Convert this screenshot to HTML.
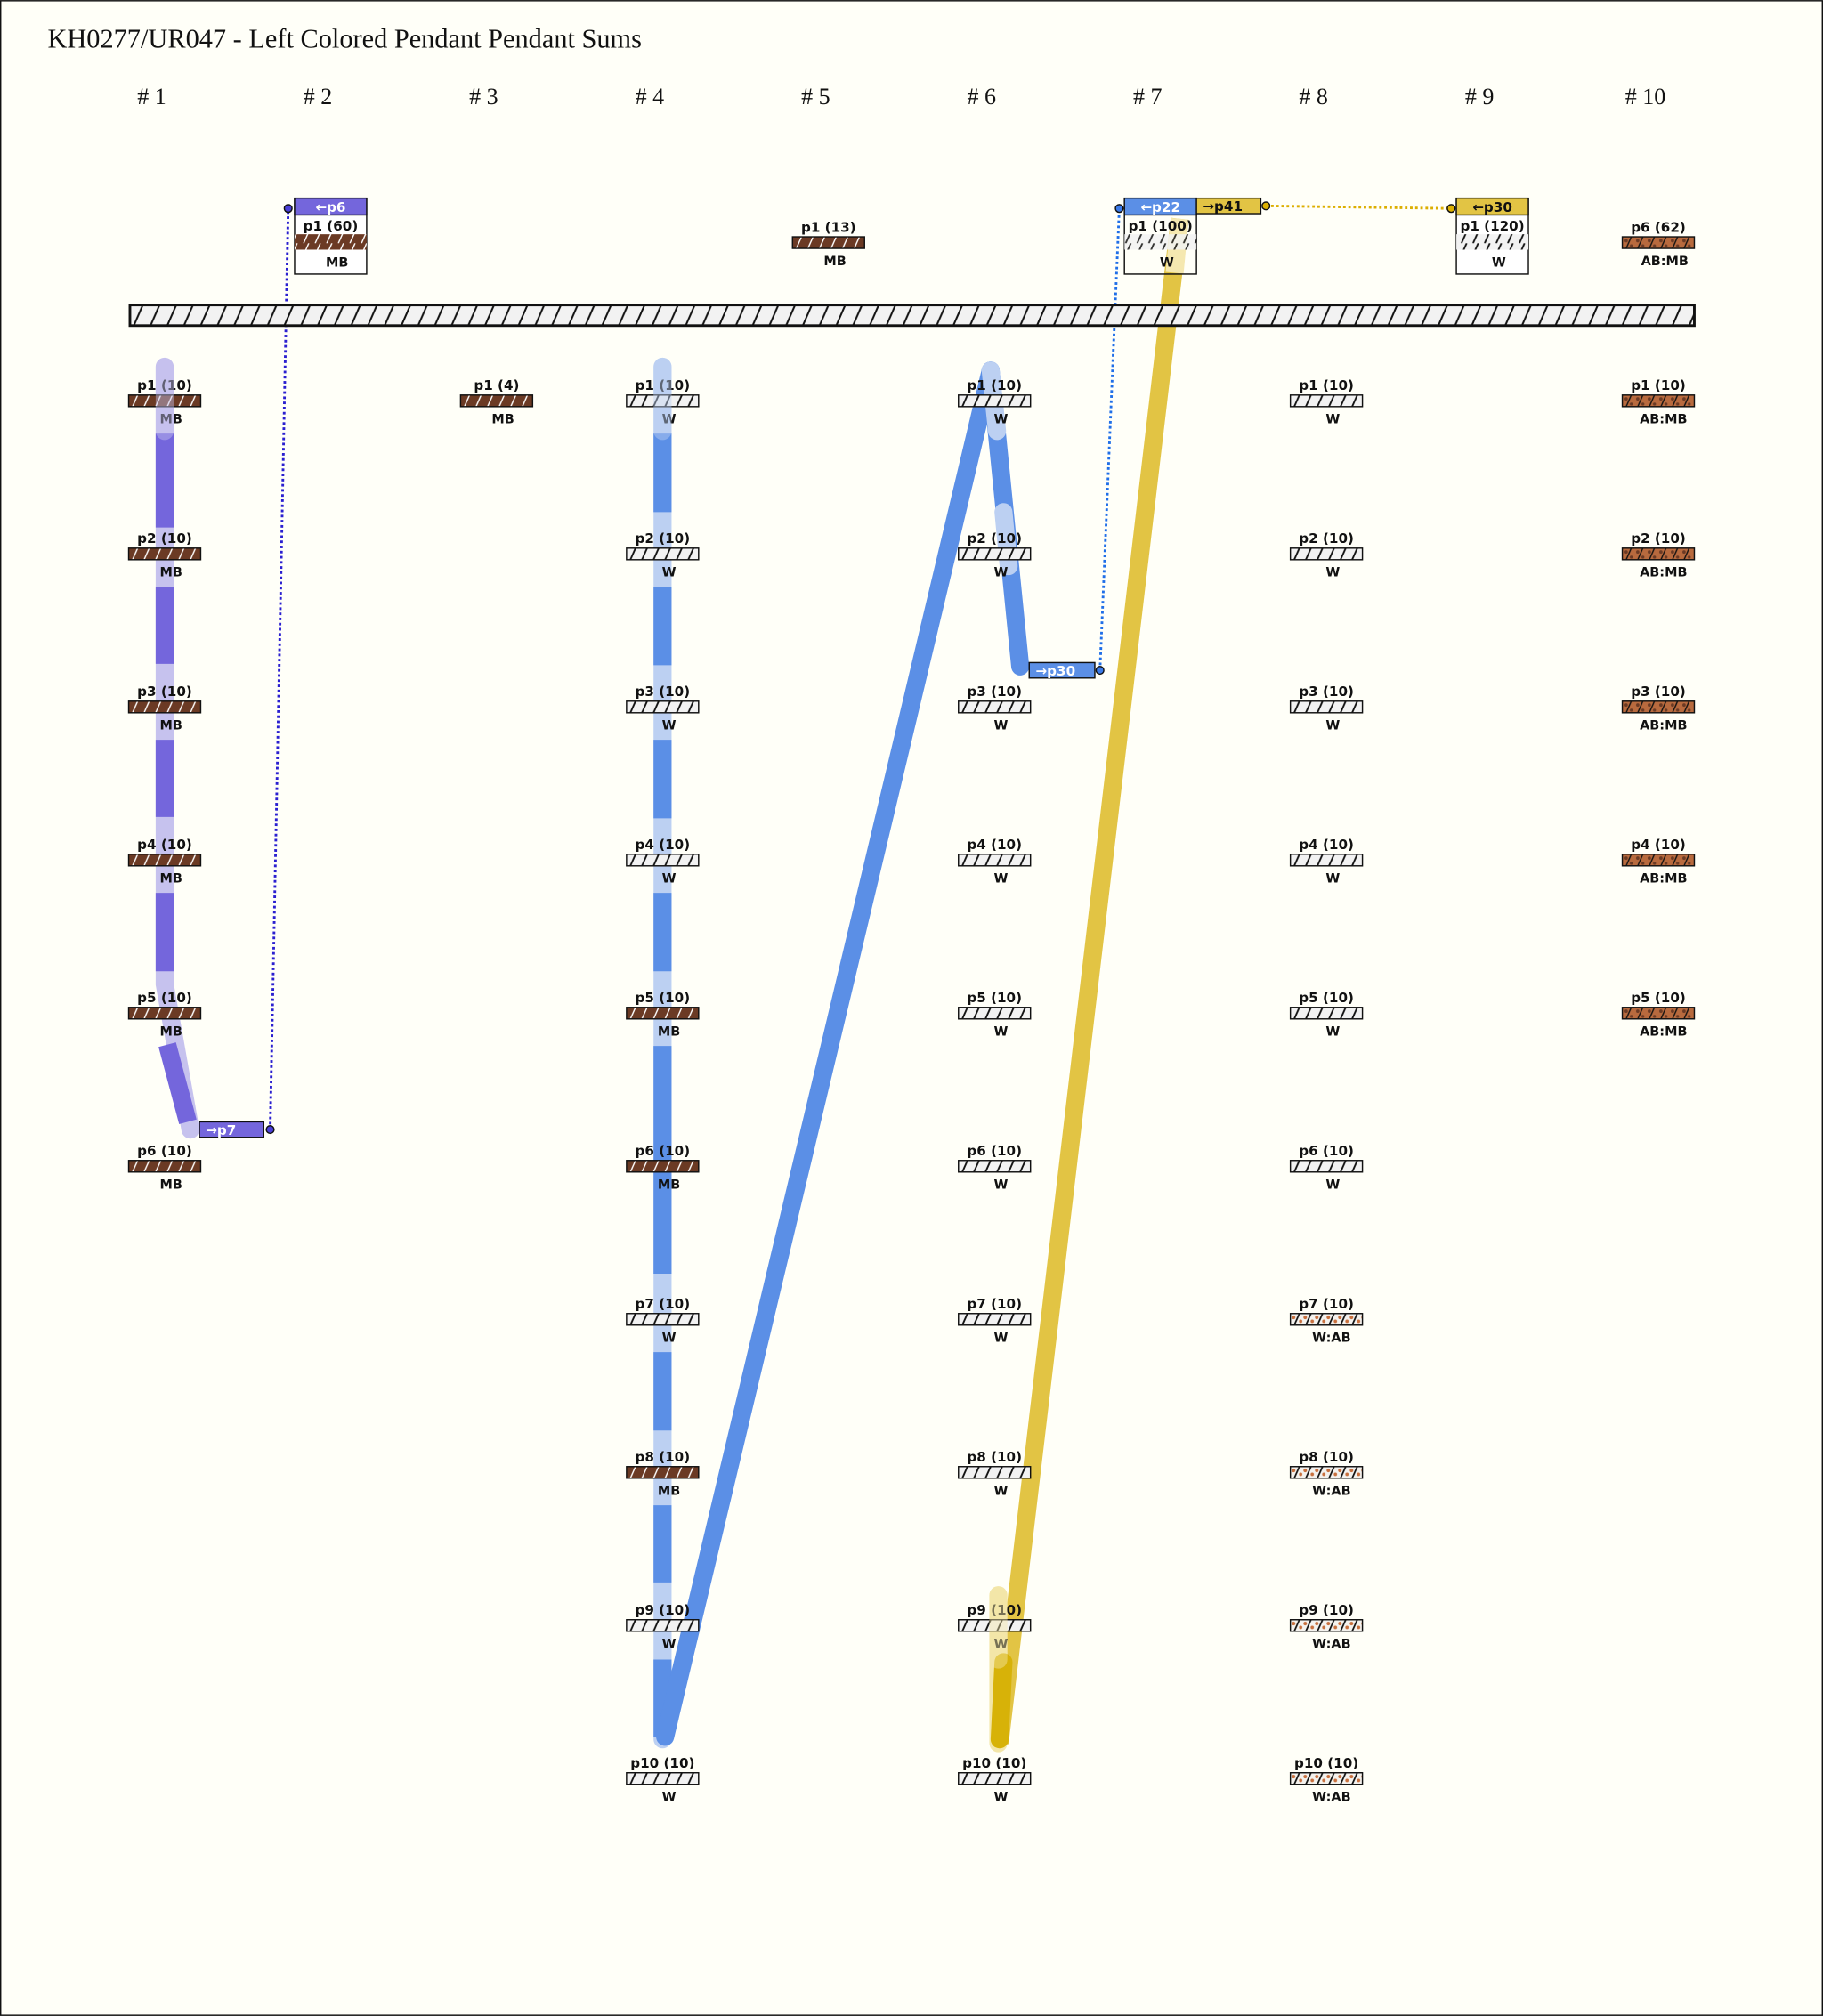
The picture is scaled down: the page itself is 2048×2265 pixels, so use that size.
<!DOCTYPE html>
<html><head><meta charset="utf-8"><style>
html,body{margin:0;padding:0;background:#fffff8}
svg{display:block}
.l{font-family:"DejaVu Sans","Liberation Sans",sans-serif;font-weight:bold;font-size:10.5px;text-anchor:middle;fill:#111}
.s{font-family:"DejaVu Sans","Liberation Sans",sans-serif;font-weight:bold;font-size:10px;text-anchor:middle;fill:#111}
.h{font-family:"Liberation Serif",serif;font-size:18px;text-anchor:middle;fill:#111}
.w{font-family:"DejaVu Sans","Liberation Sans",sans-serif;font-weight:bold;font-size:10.5px;fill:#fff}
.k{font-family:"DejaVu Sans","Liberation Sans",sans-serif;font-weight:bold;font-size:10.5px;fill:#111}
</style></head><body>
<svg width="2048" height="2265" viewBox="0 0 1417 1567" xmlns="http://www.w3.org/2000/svg">
<defs>
<pattern id="W" patternUnits="userSpaceOnUse" width="9" height="9"><rect width="9" height="9" fill="#f2f2f2"/><line x1="2" y1="9" x2="6" y2="0" stroke="#111" stroke-width="1.3"/></pattern>
<pattern id="BAR" patternUnits="userSpaceOnUse" x="101" y="237" width="13" height="16"><rect width="13" height="16" fill="#f2f2f2"/><line x1="3" y1="16" x2="10" y2="0" stroke="#111" stroke-width="1.4"/></pattern>
<pattern id="MB" patternUnits="userSpaceOnUse" width="9" height="9"><rect width="9" height="9" fill="#6b3a24"/><line x1="2" y1="9" x2="6" y2="0" stroke="#fff" stroke-width="1"/></pattern>
<pattern id="AM" patternUnits="userSpaceOnUse" width="9" height="9"><rect width="9" height="9" fill="#b86a3e"/><circle cx="2" cy="3" r="1.3" fill="#6b3a24"/><circle cx="6" cy="7" r="1.2" fill="#6b3a24"/><line x1="2" y1="9" x2="6" y2="0" stroke="#111" stroke-width="1"/></pattern>
<pattern id="WA" patternUnits="userSpaceOnUse" width="9" height="9"><rect width="9" height="9" fill="#f4f2ee"/><circle cx="1.5" cy="3" r="1.4" fill="#c8703e"/><circle cx="7" cy="6" r="1.3" fill="#c8703e"/><line x1="2" y1="9" x2="6" y2="0" stroke="#111" stroke-width="1.2"/></pattern>
</defs>
<rect x="0.5" y="0.5" width="1416" height="1566" fill="#fffff8" stroke="#111" stroke-width="1"/>
<text x="37" y="37" font-family="Liberation Serif, serif" font-size="21" fill="#111">KH0277/UR047 - Left Colored Pendant Pendant Sums</text>
<text class="h" x="118" y="81"># 1</text><text class="h" x="247" y="81"># 2</text><text class="h" x="376" y="81"># 3</text><text class="h" x="505" y="81"># 4</text><text class="h" x="634" y="81"># 5</text><text class="h" x="763" y="81"># 6</text><text class="h" x="892" y="81"># 7</text><text class="h" x="1021" y="81"># 8</text><text class="h" x="1150" y="81"># 9</text><text class="h" x="1279" y="81"># 10</text>

<g fill="none" stroke-linecap="round">
<polyline points="128,285 128,765 148,878" stroke="#c6c2ee" stroke-width="14"/>
<g stroke="#7466dc" stroke-width="14" stroke-linecap="butt">
<line x1="128" y1="337" x2="128" y2="410"/><line x1="128" y1="456" x2="128" y2="516"/><line x1="128" y1="575" x2="128" y2="635"/><line x1="128" y1="694" x2="128" y2="755"/><line x1="130" y1="812" x2="146" y2="872"/>
</g>
<line x1="515" y1="285" x2="515" y2="1352" stroke="#bcd0f2" stroke-width="14"/>
<g stroke="#5b8fe6" stroke-width="14" stroke-linecap="butt">
<line x1="515" y1="337" x2="515" y2="398"/><line x1="515" y1="456" x2="515" y2="517"/><line x1="515" y1="575" x2="515" y2="636"/><line x1="515" y1="694" x2="515" y2="755"/><line x1="515" y1="813" x2="515" y2="990"/><line x1="515" y1="1051" x2="515" y2="1112"/><line x1="515" y1="1170" x2="515" y2="1230"/><line x1="515" y1="1290" x2="515" y2="1350"/>
</g>
<line x1="517" y1="1350" x2="770" y2="288" stroke="#5b8fe6" stroke-width="14"/>
<line x1="770" y1="288" x2="793" y2="518" stroke="#5b8fe6" stroke-width="14"/>
<line x1="770" y1="288" x2="775" y2="335" stroke="#bcd0f2" stroke-width="14"/>
<line x1="780" y1="398" x2="784" y2="440" stroke="#bcd0f2" stroke-width="14"/>
<line x1="917" y1="170" x2="777" y2="1355" stroke="#e2c444" stroke-width="14" stroke-linecap="butt"/>
<line x1="917" y1="170" x2="913" y2="212" stroke="#f5e8b0" stroke-width="14" stroke-linecap="butt"/>
<line x1="776" y1="1240" x2="776" y2="1355" stroke="#f3e6a8" stroke-width="14"/>
<line x1="780" y1="1292" x2="777" y2="1352" stroke="#d7b208" stroke-width="14"/>
</g>
<polyline points="210,878 224,162" fill="none" stroke="#2a1fd0" stroke-width="2" stroke-dasharray="2,2"/>
<circle cx="210" cy="878" r="3" fill="#4a3fd8" stroke="#111"/><circle cx="224" cy="162" r="3" fill="#4a3fd8" stroke="#111"/>
<polyline points="855,521 870,162" fill="none" stroke="#1f6ee8" stroke-width="2" stroke-dasharray="2,2"/>
<circle cx="855" cy="521" r="3" fill="#3b7ae8" stroke="#111"/><circle cx="870" cy="162" r="3" fill="#3b7ae8" stroke="#111"/>
<polyline points="984,160 1128,162" fill="none" stroke="#dcae00" stroke-width="2" stroke-dasharray="2,2"/>
<circle cx="984" cy="160" r="3" fill="#dcb000" stroke="#111"/><circle cx="1128" cy="162" r="3" fill="#dcb000" stroke="#111"/>

<rect x="155" y="872" width="50" height="12" fill="#7466dc" stroke="#111"/><text class="w" x="160" y="882">→p7</text>
<rect x="800" y="515" width="51" height="12" fill="#5b8fe6" stroke="#111"/><text class="w" x="805" y="525">→p30</text>

<rect x="101" y="237" width="1216" height="16" fill="url(#BAR)" stroke="#111" stroke-width="2"/>

<g>
<rect x="229" y="154" width="56" height="59" fill="#fff" stroke="#111"/>
<rect x="229" y="154" width="56" height="13" fill="#7466dc" stroke="#111"/><text class="w" x="257" y="164.5" text-anchor="middle">←p6</text>
<text class="k" x="257" y="179" text-anchor="middle">p1 (60)</text>
<rect x="229" y="182" width="56" height="12" fill="url(#MB)"/>
<text class="s" x="262" y="207">MB</text>
</g>
<g>
<rect x="874" y="154" width="56" height="59" fill="#fff" fill-opacity="0" stroke="#111"/>
<rect x="874" y="154" width="56" height="13" fill="#5b8fe6" stroke="#111"/><text class="w" x="902" y="164.5" text-anchor="middle">←p22</text>
<rect x="930" y="154" width="50" height="12" fill="#e2c444" stroke="#111"/><text class="k" x="935" y="164">→p41</text>
<text class="k" x="902" y="179" text-anchor="middle">p1 (100)</text>
<rect x="874" y="182" width="56" height="12" fill="url(#W)" fill-opacity="0.85"/>
<text class="s" x="907" y="207">W</text>
</g>
<g>
<rect x="1132" y="154" width="56" height="59" fill="#fff" stroke="#111"/>
<rect x="1132" y="154" width="56" height="13" fill="#e2c444" stroke="#111"/><text class="k" x="1160" y="164.5" text-anchor="middle">←p30</text>
<text class="k" x="1160" y="179" text-anchor="middle">p1 (120)</text>
<rect x="1132" y="182" width="56" height="12" fill="url(#W)"/>
<text class="s" x="1165" y="207">W</text>
</g>
<g transform="translate(644,184)"><text class="l" x="0" y="-4">p1 (13)</text><rect x="-28" y="0" width="56" height="9" fill="url(#MB)" stroke="#111"/><text class="s" x="5" y="22">MB</text></g>
<g transform="translate(1289,184)"><text class="l" x="0" y="-4">p6 (62)</text><rect x="-28" y="0" width="56" height="9" fill="url(#AM)" stroke="#111"/><text class="s" x="5" y="22">AB:MB</text></g>

<g transform="translate(128,307)"><text class="l" y="-4">p1 (10)</text><rect x="-28" width="56" height="9" fill="url(#MB)" stroke="#111"/><text class="s" x="5" y="22">MB</text></g>
<g transform="translate(128,426)"><text class="l" y="-4">p2 (10)</text><rect x="-28" width="56" height="9" fill="url(#MB)" stroke="#111"/><text class="s" x="5" y="22">MB</text></g>
<g transform="translate(128,545)"><text class="l" y="-4">p3 (10)</text><rect x="-28" width="56" height="9" fill="url(#MB)" stroke="#111"/><text class="s" x="5" y="22">MB</text></g>
<g transform="translate(128,664)"><text class="l" y="-4">p4 (10)</text><rect x="-28" width="56" height="9" fill="url(#MB)" stroke="#111"/><text class="s" x="5" y="22">MB</text></g>
<g transform="translate(128,783)"><text class="l" y="-4">p5 (10)</text><rect x="-28" width="56" height="9" fill="url(#MB)" stroke="#111"/><text class="s" x="5" y="22">MB</text></g>
<g transform="translate(128,902)"><text class="l" y="-4">p6 (10)</text><rect x="-28" width="56" height="9" fill="url(#MB)" stroke="#111"/><text class="s" x="5" y="22">MB</text></g>
<g transform="translate(386,307)"><text class="l" y="-4">p1 (4)</text><rect x="-28" width="56" height="9" fill="url(#MB)" stroke="#111"/><text class="s" x="5" y="22">MB</text></g>
<g transform="translate(515,307)"><text class="l" y="-4">p1 (10)</text><rect x="-28" width="56" height="9" fill="url(#W)" stroke="#111"/><text class="s" x="5" y="22">W</text></g>
<g transform="translate(515,426)"><text class="l" y="-4">p2 (10)</text><rect x="-28" width="56" height="9" fill="url(#W)" stroke="#111"/><text class="s" x="5" y="22">W</text></g>
<g transform="translate(515,545)"><text class="l" y="-4">p3 (10)</text><rect x="-28" width="56" height="9" fill="url(#W)" stroke="#111"/><text class="s" x="5" y="22">W</text></g>
<g transform="translate(515,664)"><text class="l" y="-4">p4 (10)</text><rect x="-28" width="56" height="9" fill="url(#W)" stroke="#111"/><text class="s" x="5" y="22">W</text></g>
<g transform="translate(515,783)"><text class="l" y="-4">p5 (10)</text><rect x="-28" width="56" height="9" fill="url(#MB)" stroke="#111"/><text class="s" x="5" y="22">MB</text></g>
<g transform="translate(515,902)"><text class="l" y="-4">p6 (10)</text><rect x="-28" width="56" height="9" fill="url(#MB)" stroke="#111"/><text class="s" x="5" y="22">MB</text></g>
<g transform="translate(515,1021)"><text class="l" y="-4">p7 (10)</text><rect x="-28" width="56" height="9" fill="url(#W)" stroke="#111"/><text class="s" x="5" y="22">W</text></g>
<g transform="translate(515,1140)"><text class="l" y="-4">p8 (10)</text><rect x="-28" width="56" height="9" fill="url(#MB)" stroke="#111"/><text class="s" x="5" y="22">MB</text></g>
<g transform="translate(515,1259)"><text class="l" y="-4">p9 (10)</text><rect x="-28" width="56" height="9" fill="url(#W)" stroke="#111"/><text class="s" x="5" y="22">W</text></g>
<g transform="translate(515,1378)"><text class="l" y="-4">p10 (10)</text><rect x="-28" width="56" height="9" fill="url(#W)" stroke="#111"/><text class="s" x="5" y="22">W</text></g>
<g transform="translate(773,307)"><text class="l" y="-4">p1 (10)</text><rect x="-28" width="56" height="9" fill="url(#W)" stroke="#111"/><text class="s" x="5" y="22">W</text></g>
<g transform="translate(773,426)"><text class="l" y="-4">p2 (10)</text><rect x="-28" width="56" height="9" fill="url(#W)" stroke="#111"/><text class="s" x="5" y="22">W</text></g>
<g transform="translate(773,545)"><text class="l" y="-4">p3 (10)</text><rect x="-28" width="56" height="9" fill="url(#W)" stroke="#111"/><text class="s" x="5" y="22">W</text></g>
<g transform="translate(773,664)"><text class="l" y="-4">p4 (10)</text><rect x="-28" width="56" height="9" fill="url(#W)" stroke="#111"/><text class="s" x="5" y="22">W</text></g>
<g transform="translate(773,783)"><text class="l" y="-4">p5 (10)</text><rect x="-28" width="56" height="9" fill="url(#W)" stroke="#111"/><text class="s" x="5" y="22">W</text></g>
<g transform="translate(773,902)"><text class="l" y="-4">p6 (10)</text><rect x="-28" width="56" height="9" fill="url(#W)" stroke="#111"/><text class="s" x="5" y="22">W</text></g>
<g transform="translate(773,1021)"><text class="l" y="-4">p7 (10)</text><rect x="-28" width="56" height="9" fill="url(#W)" stroke="#111"/><text class="s" x="5" y="22">W</text></g>
<g transform="translate(773,1140)"><text class="l" y="-4">p8 (10)</text><rect x="-28" width="56" height="9" fill="url(#W)" stroke="#111"/><text class="s" x="5" y="22">W</text></g>
<g transform="translate(773,1259)"><text class="l" y="-4">p9 (10)</text><rect x="-28" width="56" height="9" fill="url(#W)" stroke="#111"/><text class="s" x="5" y="22">W</text></g>
<g transform="translate(773,1378)"><text class="l" y="-4">p10 (10)</text><rect x="-28" width="56" height="9" fill="url(#W)" stroke="#111"/><text class="s" x="5" y="22">W</text></g>
<g transform="translate(1031,307)"><text class="l" y="-4">p1 (10)</text><rect x="-28" width="56" height="9" fill="url(#W)" stroke="#111"/><text class="s" x="5" y="22">W</text></g>
<g transform="translate(1031,426)"><text class="l" y="-4">p2 (10)</text><rect x="-28" width="56" height="9" fill="url(#W)" stroke="#111"/><text class="s" x="5" y="22">W</text></g>
<g transform="translate(1031,545)"><text class="l" y="-4">p3 (10)</text><rect x="-28" width="56" height="9" fill="url(#W)" stroke="#111"/><text class="s" x="5" y="22">W</text></g>
<g transform="translate(1031,664)"><text class="l" y="-4">p4 (10)</text><rect x="-28" width="56" height="9" fill="url(#W)" stroke="#111"/><text class="s" x="5" y="22">W</text></g>
<g transform="translate(1031,783)"><text class="l" y="-4">p5 (10)</text><rect x="-28" width="56" height="9" fill="url(#W)" stroke="#111"/><text class="s" x="5" y="22">W</text></g>
<g transform="translate(1031,902)"><text class="l" y="-4">p6 (10)</text><rect x="-28" width="56" height="9" fill="url(#W)" stroke="#111"/><text class="s" x="5" y="22">W</text></g>
<g transform="translate(1031,1021)"><text class="l" y="-4">p7 (10)</text><rect x="-28" width="56" height="9" fill="url(#WA)" stroke="#111"/><text class="s" x="4" y="22">W:AB</text></g>
<g transform="translate(1031,1140)"><text class="l" y="-4">p8 (10)</text><rect x="-28" width="56" height="9" fill="url(#WA)" stroke="#111"/><text class="s" x="4" y="22">W:AB</text></g>
<g transform="translate(1031,1259)"><text class="l" y="-4">p9 (10)</text><rect x="-28" width="56" height="9" fill="url(#WA)" stroke="#111"/><text class="s" x="4" y="22">W:AB</text></g>
<g transform="translate(1031,1378)"><text class="l" y="-4">p10 (10)</text><rect x="-28" width="56" height="9" fill="url(#WA)" stroke="#111"/><text class="s" x="4" y="22">W:AB</text></g>
<g transform="translate(1289,307)"><text class="l" y="-4">p1 (10)</text><rect x="-28" width="56" height="9" fill="url(#AM)" stroke="#111"/><text class="s" x="4" y="22">AB:MB</text></g>
<g transform="translate(1289,426)"><text class="l" y="-4">p2 (10)</text><rect x="-28" width="56" height="9" fill="url(#AM)" stroke="#111"/><text class="s" x="4" y="22">AB:MB</text></g>
<g transform="translate(1289,545)"><text class="l" y="-4">p3 (10)</text><rect x="-28" width="56" height="9" fill="url(#AM)" stroke="#111"/><text class="s" x="4" y="22">AB:MB</text></g>
<g transform="translate(1289,664)"><text class="l" y="-4">p4 (10)</text><rect x="-28" width="56" height="9" fill="url(#AM)" stroke="#111"/><text class="s" x="4" y="22">AB:MB</text></g>
<g transform="translate(1289,783)"><text class="l" y="-4">p5 (10)</text><rect x="-28" width="56" height="9" fill="url(#AM)" stroke="#111"/><text class="s" x="4" y="22">AB:MB</text></g>

<g fill="none" stroke-linecap="round" opacity="0.45">
<line x1="128" y1="285" x2="128" y2="335" stroke="#c6c2ee" stroke-width="14"/>
<line x1="515" y1="285" x2="515" y2="335" stroke="#bcd0f2" stroke-width="14"/>
<line x1="776" y1="1240" x2="776" y2="1290" stroke="#f3e6a8" stroke-width="14"/>
</g>
</svg>
</body></html>
